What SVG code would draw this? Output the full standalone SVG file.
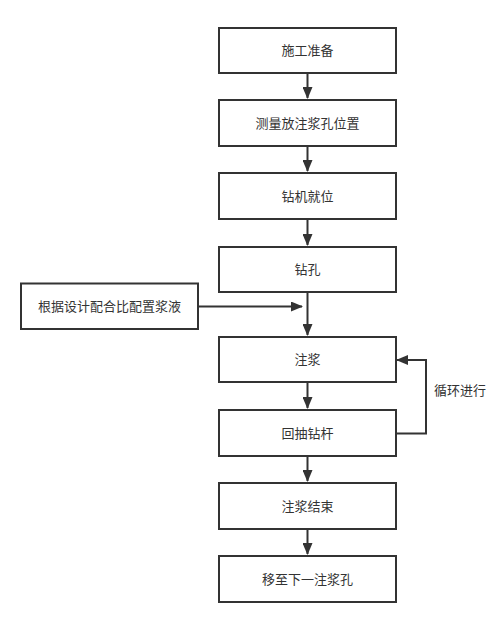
<svg xmlns="http://www.w3.org/2000/svg" width="499" height="625" viewBox="0 0 499 625">
<style>
.box{fill:#fff;stroke:#333;stroke-width:2}
.t{font-family:"Liberation Sans","Noto Sans CJK SC",sans-serif;font-size:13px;fill:#333;text-anchor:middle;dominant-baseline:central}
.c{fill:none;stroke:#333;stroke-width:2}
</style>
<defs>
<marker id="ah" markerWidth="12" markerHeight="10" refX="11" refY="5" orient="auto" markerUnits="userSpaceOnUse">
<path d="M0,0 L12,5 L0,10 Z" fill="#333"/>
</marker>
</defs>
<rect width="499" height="625" fill="#fff"/>
<g id="connectors">
<line class="c" x1="307.5" y1="73" x2="307.5" y2="98" marker-end="url(#ah)"/>
<line class="c" x1="307.5" y1="146" x2="307.5" y2="171" marker-end="url(#ah)"/>
<line class="c" x1="307.5" y1="219" x2="307.5" y2="245" marker-end="url(#ah)"/>
<line class="c" x1="307.5" y1="292" x2="307.5" y2="335" marker-end="url(#ah)"/>
<line class="c" x1="198" y1="306.5" x2="302" y2="306.5" marker-end="url(#ah)"/>
<line class="c" x1="307.5" y1="382" x2="307.5" y2="408" marker-end="url(#ah)"/>
<polyline class="c" points="396,433.5 426,433.5 426,360 397,360" marker-end="url(#ah)"/>
<line class="c" x1="307.5" y1="456" x2="307.5" y2="481" marker-end="url(#ah)"/>
<line class="c" x1="307.5" y1="529" x2="307.5" y2="554" marker-end="url(#ah)"/>
<text class="t" x="460" y="390">循环进行</text>
</g>
<g id="n1"><rect class="box" x="219" y="28" width="177" height="45"/><text class="t" x="307.5" y="50.5">施工准备</text></g>
<g id="n2"><rect class="box" x="219" y="100" width="177" height="46"/><text class="t" x="307.5" y="123">测量放注浆孔位置</text></g>
<g id="n3"><rect class="box" x="219" y="173" width="177" height="46"/><text class="t" x="307.5" y="196">钻机就位</text></g>
<g id="n4"><rect class="box" x="219" y="247" width="177" height="45"/><text class="t" x="307.5" y="269.5">钻孔</text></g>
<g id="n0"><rect class="box" x="21" y="283.5" width="177" height="45.5"/><text class="t" x="109.5" y="306.5">根据设计配合比配置浆液</text></g>
<g id="n5"><rect class="box" x="219" y="337" width="177" height="45"/><text class="t" x="307.5" y="359.5">注浆</text></g>
<g id="n6"><rect class="box" x="219" y="410" width="177" height="46"/><text class="t" x="307.5" y="433">回抽钻杆</text></g>
<g id="n7"><rect class="box" x="219" y="483" width="177" height="46"/><text class="t" x="307.5" y="506">注浆结束</text></g>
<g id="n8"><rect class="box" x="219" y="556" width="177" height="46"/><text class="t" x="307.5" y="579">移至下一注浆孔</text></g>
</svg>
